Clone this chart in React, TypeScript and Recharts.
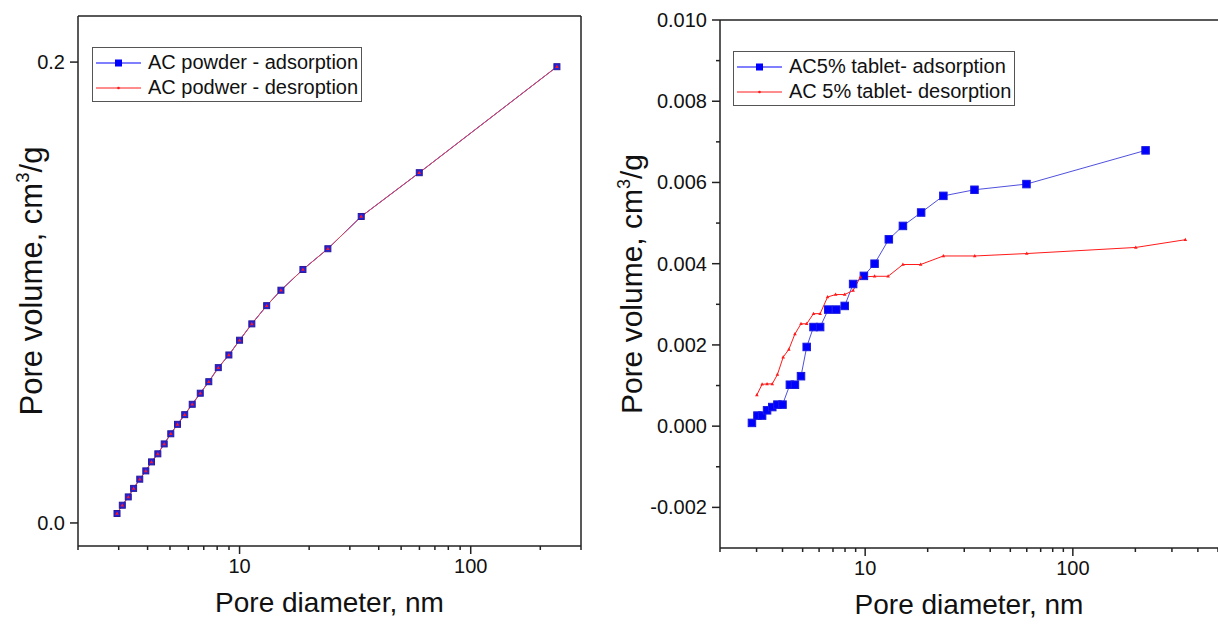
import React from 'react';
import { LineChart, Line, XAxis, YAxis, ReferenceLine } from 'recharts';

// AC powder (left panel)
const powderDiameter = [2.95, 3.11, 3.3, 3.48, 3.7, 3.93, 4.16, 4.43, 4.72, 5.04, 5.39, 5.79, 6.24, 6.76, 7.36, 8.09, 8.99, 10.0, 11.3, 13.1, 15.1, 18.8, 24.1, 33.6, 59.9, 236];
const powderAdsorption = [0.0041, 0.0077, 0.0113, 0.015, 0.019, 0.0226, 0.0265, 0.03, 0.0343, 0.0387, 0.0428, 0.047, 0.0515, 0.0563, 0.0613, 0.0674, 0.0729, 0.0793, 0.0864, 0.0943, 0.101, 0.11, 0.119, 0.133, 0.152, 0.198];
const powderDesorption = [0.0041, 0.0077, 0.0113, 0.015, 0.019, 0.0226, 0.0265, 0.03, 0.0343, 0.0387, 0.0428, 0.047, 0.0515, 0.0563, 0.0613, 0.0674, 0.0729, 0.0793, 0.0864, 0.0943, 0.101, 0.11, 0.119, 0.133, 0.152, 0.198];

// AC 5% tablet (right panel)
const tabletAdsDiameter = [2.85, 3.03, 3.19, 3.37, 3.57, 3.78, 4.0, 4.34, 4.59, 4.91, 5.23, 5.64, 6.07, 6.64, 7.26, 7.97, 8.75, 9.86, 11.1, 13.0, 15.2, 18.6, 23.8, 33.6, 59.8, 224];
const tabletAdsorption = [0.00008, 0.00026, 0.00026, 0.00039, 0.00047, 0.00053, 0.00053, 0.00102, 0.00102, 0.00123, 0.00195, 0.00244, 0.00244, 0.00287, 0.00287, 0.00296, 0.0035, 0.0037, 0.004, 0.0046, 0.00493, 0.00526, 0.00567, 0.00582, 0.00596, 0.00679];
const tabletDesDiameter = [3.01, 3.19, 3.37, 3.57, 3.78, 4.03, 4.29, 4.59, 4.91, 5.23, 5.64, 6.07, 6.59, 7.21, 7.97, 8.75, 9.49, 11.1, 12.9, 15.2, 18.5, 23.8, 33.7, 60.0, 201, 348];
const tabletDesorption = [0.00077, 0.00103, 0.00104, 0.00104, 0.00127, 0.0017, 0.00189, 0.00227, 0.00252, 0.00252, 0.00277, 0.00277, 0.00318, 0.00324, 0.00324, 0.00334, 0.00367, 0.00369, 0.00369, 0.00398, 0.00398, 0.00419, 0.00419, 0.00425, 0.0044, 0.00459];

// axis ticks
const leftXTicks = [2, 3, 4, 5, 6, 7, 8, 9, 10, 20, 30, 40, 50, 60, 70, 80, 90, 100, 200, 300];
const rightXTicks = [2, 3, 4, 5, 6, 7, 8, 9, 10, 20, 30, 40, 50, 60, 70, 80, 90, 100, 200, 300, 400, 500];
const majorXTicks = [10, 100];
const leftYTicks = [0, 0.2];
const rightYTicks = [-0.002, -0.001, 0, 0.001, 0.002, 0.003, 0.004, 0.005, 0.006, 0.007, 0.008, 0.009, 0.01];

const FONT = '"Liberation Sans", Arial, sans-serif';
const AXIS = '#222';
const BLUE = '#0000ff';
const RED = '#ff1a1a';

const toPoints = (xs: number[], ys: number[]) => xs.map((d, i) => ({ d, v: ys[i] }));

const XTick = (props: any) => {
  const { x, y, payload } = props;
  const major = majorXTicks.includes(payload.value);
  return (
    <g>
      <line x1={x} y1={y} x2={x} y2={y + (major ? 8 : 4)} stroke={AXIS} strokeWidth={1.5} />
      {major && (
        <text x={x} y={y + 27} textAnchor="middle" fontSize={20} fill="#111" fontFamily={FONT}>
          {payload.value}
        </text>
      )}
    </g>
  );
};

const makeYTick = (digits: number, hasMinor: boolean) => (props: any) => {
  const { x, y, payload } = props;
  const v = payload.value;
  const major = !hasMinor || Math.round(v * 1000) % 2 === 0;
  return (
    <g>
      <line x1={x} y1={y} x2={x - (major ? 8 : 4)} y2={y} stroke={AXIS} strokeWidth={1.5} />
      {major && (
        <text x={x - 13} y={y} dy="0.35em" textAnchor="end" fontSize={20} fill="#111" fontFamily={FONT}>
          {v.toFixed(digits)}
        </text>
      )}
    </g>
  );
};

const YTitle = (props: any) => {
  const { viewBox, size } = props;
  const cx = viewBox.x + 31;
  const cy = viewBox.y + viewBox.height / 2;
  return (
    <text
      x={cx}
      y={cy}
      transform={`rotate(-90 ${cx} ${cy})`}
      textAnchor="middle"
      dy="0.35em"
      fontSize={size}
      fill="#111"
      fontFamily={FONT}
    >
      Pore volume, cm<tspan dy={-size * 0.4} fontSize={size * 0.6}>3</tspan>
      <tspan dy={size * 0.4}>/g</tspan>
    </text>
  );
};

const XTitle = (props: any) => {
  const { viewBox } = props;
  return (
    <text
      x={viewBox.x + viewBox.width / 2}
      y={viewBox.y + 66}
      textAnchor="middle"
      fontSize={28}
      fill="#111"
      fontFamily={FONT}
    >
      Pore diameter, nm
    </text>
  );
};

const squareDot = (size: number, fill: string, stroke: string) => (p: any) => (
  <rect
    key={`sq-${p.index}`}
    x={p.cx - size / 2}
    y={p.cy - size / 2}
    width={size}
    height={size}
    fill={fill}
    stroke={stroke}
    strokeWidth={1}
  />
);

const triDot = (p: any) => (
  <path
    key={`tr-${p.index}`}
    d={`M${p.cx},${p.cy - 2} L${p.cx + 1.8},${p.cy + 1.3} L${p.cx - 1.8},${p.cy + 1.3} Z`}
    fill={RED}
  />
);

const LegendBox = ({ left, top, sampleWidth, items }: any) => (
  <div
    style={{
      position: 'absolute',
      left,
      top,
      border: '1px solid #555',
      background: '#fff',
      padding: '2px 3px 1px 3px',
      fontFamily: FONT,
      fontSize: 20,
      color: '#111',
    }}
  >
    {items.map((it: any) => (
      <div key={it.label} style={{ display: 'flex', alignItems: 'center', height: 25 }}>
        <svg width={sampleWidth} height={12} style={{ marginRight: 7 }}>
          <line x1={0} y1={6} x2={sampleWidth} y2={6} stroke={it.color} strokeWidth={1} />
          {it.square ? (
            <rect x={sampleWidth / 2 - 3.5} y={2.5} width={7} height={7} fill={BLUE} />
          ) : (
            <circle cx={sampleWidth / 2} cy={6} r={1.3} fill={RED} />
          )}
        </svg>
        <span style={{ whiteSpace: 'nowrap' }}>{it.label}</span>
      </div>
    ))}
  </div>
);

const App: React.FC = () => {
  const powderAds = toPoints(powderDiameter, powderAdsorption);
  const powderDes = toPoints(powderDiameter, powderDesorption);
  const tabletAds = toPoints(tabletAdsDiameter, tabletAdsorption);
  const tabletDes = toPoints(tabletDesDiameter, tabletDesorption);

  return (
    <div
      style={{
        position: 'fixed',
        left: 0,
        top: 0,
        width: 1218,
        height: 624,
        overflow: 'hidden',
        background: '#fff',
      }}
    >
      <div style={{ position: 'absolute', left: 0, top: 0 }}>
        <LineChart width={600} height={624} margin={{ top: 16, right: 19, bottom: 18, left: 0 }}>
          <XAxis
            dataKey="d"
            type="number"
            scale="log"
            domain={[2, 300]}
            allowDataOverflow
            ticks={leftXTicks}
            interval={0}
            tickSize={0}
            tickMargin={0}
            tick={<XTick />}
            axisLine={{ stroke: AXIS, strokeWidth: 1.5 }}
            height={60}
            label={{ content: <XTitle /> }}
          />
          <YAxis
            type="number"
            domain={[-0.01, 0.22]}
            allowDataOverflow
            ticks={leftYTicks}
            interval={0}
            tickSize={0}
            tickMargin={0}
            tick={makeYTick(1, false)}
            axisLine={{ stroke: AXIS, strokeWidth: 1.5 }}
            width={78}
            label={{ content: <YTitle size={31} /> }}
          />
          <ReferenceLine y={0.22} stroke={AXIS} strokeWidth={1.5} />
          <ReferenceLine x={300} stroke={AXIS} strokeWidth={1.5} />
          <Line
            data={powderAds}
            dataKey="v"
            stroke={BLUE}
            strokeWidth={1}
            dot={squareDot(6, '#2222dd', '#2a1a9a')}
            activeDot={false}
            isAnimationActive={false}
          />
          <Line
            data={powderDes}
            dataKey="v"
            stroke="#e84a4a"
            strokeWidth={1}
            dot={triDot}
            activeDot={false}
            isAnimationActive={false}
          />
        </LineChart>
      </div>

      <div style={{ position: 'absolute', left: 600, top: 0 }}>
        <LineChart width={620} height={624} margin={{ top: 20, right: 2, bottom: 18, left: 0 }}>
          <XAxis
            dataKey="d"
            type="number"
            scale="log"
            domain={[2, 500]}
            allowDataOverflow
            ticks={rightXTicks}
            interval={0}
            tickSize={0}
            tickMargin={0}
            tick={<XTick />}
            axisLine={{ stroke: AXIS, strokeWidth: 1.5 }}
            height={58}
            label={{ content: <XTitle /> }}
          />
          <YAxis
            type="number"
            domain={[-0.003, 0.01]}
            allowDataOverflow
            ticks={rightYTicks}
            interval={0}
            tickSize={0}
            tickMargin={0}
            tick={makeYTick(3, true)}
            axisLine={{ stroke: AXIS, strokeWidth: 1.5 }}
            width={120}
            label={{ content: <YTitle size={30} /> }}
          />
          <ReferenceLine y={0.01} stroke={AXIS} strokeWidth={1.5} />
          <Line
            data={tabletAds}
            dataKey="v"
            stroke="#5050dd"
            strokeWidth={1}
            dot={squareDot(7.5, BLUE, '#1a1ae0')}
            activeDot={false}
            isAnimationActive={false}
          />
          <Line
            data={tabletDes}
            dataKey="v"
            stroke={RED}
            strokeWidth={1}
            dot={triDot}
            activeDot={false}
            isAnimationActive={false}
          />
        </LineChart>
      </div>

      <LegendBox
        left={92}
        top={47}
        sampleWidth={45}
        items={[
          { label: 'AC powder - adsorption', color: BLUE, square: true },
          { label: 'AC podwer - desroption', color: RED, square: false },
        ]}
      />
      <LegendBox
        left={733}
        top={51}
        sampleWidth={45}
        items={[
          { label: 'AC5% tablet- adsorption', color: BLUE, square: true },
          { label: 'AC 5% tablet- desorption', color: RED, square: false },
        ]}
      />
    </div>
  );
};

export default App;
